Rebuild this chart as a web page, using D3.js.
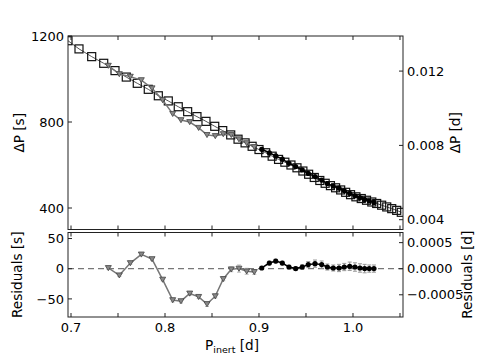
<!DOCTYPE html>
<html lang="en">
<head>
<meta charset="utf-8">
<title>Period spacing</title>
<script src="https://d3js.org/d3.v7.min.js"></script>
<style>
  body, html { margin: 0; padding: 0; background: #fff; }
  text { font-family: "DejaVu Sans", sans-serif; fill: #000; }
  .tick-label { font-size: 13px; }
  .axis-label { font-size: 13.6px; }
</style>
</head>
<body>
<svg width="480" height="362"></svg>
<script>
// model periods (open squares)
var modelP = [0.6968, 0.7085, 0.7220, 0.7348, 0.7468, 0.7588, 0.7705, 0.7822, 0.7929, 0.8035,
  0.8141, 0.8241, 0.8340, 0.8436, 0.8529, 0.8614, 0.8699, 0.8777, 0.8852, 0.8927,
  0.9000, 0.9071, 0.9140, 0.9208, 0.9275, 0.9340, 0.9404, 0.9467, 0.9528, 0.9588,
  0.9647, 0.9704, 0.9760, 0.9815, 0.9869, 0.9922, 0.9974, 1.0031, 1.0088, 1.0144,
  1.0200, 1.0252, 1.0305, 1.0359, 1.0412, 1.0465, 1.0514];
var modelDP = [1178, 1140, 1104, 1073, 1039, 1009, 980, 952, 922, 898,
  871, 848, 825, 803, 780, 760, 740, 720, 703, 687,
  672, 657, 641, 626, 613, 600, 587, 572, 557, 542,
  528, 515, 504, 494, 484, 473, 462, 452, 444, 436,
  428, 421, 413, 405, 397, 389, 380];

// first observed group (grey triangles)
var triP = [0.7397, 0.7514, 0.7631, 0.7748, 0.7862, 0.7975, 0.8082, 0.8170, 0.8263,
  0.8358, 0.8447, 0.8535, 0.8620, 0.8705, 0.8787, 0.8869, 0.8950];
var triDP = [1062, 1023, 1011, 995, 957, 902, 838, 809, 800, 773, 740, 735, 744, 740, 720, 702, 684];
var triRes = [1.2, -10.9, 9.4, 23.7, 16, -18, -52, -53.7, -41, -46.6, -58.6, -45.5, -17, -1, 0.2, -4.3, -5.4];
var triErr = [2, 2, 2, 2, 2, 2, 3, 3, 3, 3, 4, 3, 3, 4, 6, 5, 4];

// second observed group (black circles)
var dotP = [0.9029, 0.9110, 0.9178, 0.9248, 0.9319, 0.9390, 0.9460, 0.9524, 0.9596, 0.9667,
  0.9727, 0.9790, 0.9851, 0.9907, 0.9965, 1.0021, 1.0074, 1.0124, 1.0173, 1.0223];
var dotDP = [673, 657, 642, 627, 608, 593, 577, 561, 546, 530,
  514, 502, 492, 480, 468, 457, 448, 440, 433, 426];
var dotRes = [1.2, 9.4, 12.7, 9.4, 2.8, 0.2, 2.8, 6.8, 8.4, 6.8,
  2.8, 1.2, 1.2, 2.8, 4, 2.8, 1.2, 0.2, 0.2, 0.2];
var dotErr = [2, 3, 3, 3, 3, 3, 4, 5, 6, 6, 5, 5, 6, 6, 7, 7, 7, 7, 6, 6];

var xTicks = [0.7, 0.75, 0.8, 0.85, 0.9, 0.95, 1.0, 1.05];
var xLabels = [0.7, 0.8, 0.9, 1.0];
var dpTicks = [400, 800, 1200];
var dpDayTicks = [0.004, 0.008, 0.012];
var resTicks = [50, 0, -50];
var resDayTicks = [0.0005, 0, -0.0005];

var svg = d3.select("svg");
var left = 68, right = 403;
var top1 = 36, bot1 = 229.5, top2 = 232.5, bot2 = 317;
var day = 86400;

var x = d3.scaleLinear().domain([0.6968, 1.0532]).range([left, right]);
var y1 = d3.scaleLinear().domain([300, 1200]).range([bot1, top1]);
var y1d = d3.scaleLinear().domain([300 / day, 1200 / day]).range([bot1, top1]);
var y2 = d3.scaleLinear().domain([-80, 60]).range([bot2, top2]);
var y2d = d3.scaleLinear().domain([-80 / day, 60 / day]).range([bot2, top2]);

var defs = svg.append("defs");
defs.append("clipPath").attr("id", "clip1").append("rect")
  .attr("x", left).attr("y", top1).attr("width", right - left).attr("height", bot1 - top1);
defs.append("clipPath").attr("id", "clip2").append("rect")
  .attr("x", left).attr("y", top2).attr("width", right - left).attr("height", bot2 - top2);

function tri(cx, cy, s) {
  return "M" + (cx - s) + "," + (cy - s * 0.8) + "L" + (cx + s) + "," + (cy - s * 0.8) + "L" + cx + "," + (cy + s * 0.9) + "Z";
}

function frame(yt, yb) {
  svg.append("rect").attr("x", left).attr("y", yt).attr("width", right - left).attr("height", yb - yt)
    .attr("fill", "none").attr("stroke", "#222").attr("stroke-width", 1);
  // inward x ticks, top and bottom
  xTicks.forEach(function (t) {
    svg.append("line").attr("x1", x(t)).attr("x2", x(t)).attr("y1", yt).attr("y2", yt + 4).attr("stroke", "#222");
    svg.append("line").attr("x1", x(t)).attr("x2", x(t)).attr("y1", yb).attr("y2", yb - 4).attr("stroke", "#222");
  });
}

function yAxis(scale, ticks, fmt, side) {
  ticks.forEach(function (t) {
    var yy = scale(t);
    var x0 = side === "left" ? left : right;
    var dir = side === "left" ? 1 : -1;
    svg.append("line").attr("x1", x0).attr("x2", x0 + dir * 4).attr("y1", yy).attr("y2", yy).attr("stroke", "#222");
    svg.append("text").attr("class", "tick-label")
      .attr("x", side === "left" ? left - 4 : right + 4)
      .attr("y", yy).attr("dy", "0.36em")
      .attr("text-anchor", side === "left" ? "end" : "start")
      .text(fmt(t));
  });
}

// ---------- top panel ----------
var g1 = svg.append("g").attr("clip-path", "url(#clip1)");

var lineModel = d3.line().x(function (d, i) { return x(modelP[i]); }).y(function (d) { return y1(d); });
g1.append("path").datum(modelDP).attr("d", lineModel)
  .attr("fill", "none").attr("stroke", "#555").attr("stroke-width", 1);
g1.selectAll(".sq").data(modelDP).enter().append("rect")
  .attr("x", function (d, i) { return x(modelP[i]) - 4; })
  .attr("y", function (d) { return y1(d) - 4; })
  .attr("width", 8).attr("height", 8)
  .attr("fill", "none").attr("stroke", "#111").attr("stroke-width", 1.2);

var lineTri = d3.line().x(function (d, i) { return x(triP[i]); }).y(function (d) { return y1(d); });
g1.append("path").datum(triDP).attr("d", lineTri)
  .attr("fill", "none").attr("stroke", "#777").attr("stroke-width", 1.5);
g1.selectAll(".tri").data(triDP).enter().append("path")
  .attr("d", function (d, i) { return tri(x(triP[i]), y1(d), 3); })
  .attr("fill", "#888").attr("stroke", "#444").attr("stroke-width", 0.8);

var lineDot = d3.line().x(function (d, i) { return x(dotP[i]); }).y(function (d) { return y1(d); });
g1.append("path").datum(dotDP).attr("d", lineDot)
  .attr("fill", "none").attr("stroke", "#000").attr("stroke-width", 1.5);
g1.selectAll(".dot").data(dotDP).enter().append("circle")
  .attr("cx", function (d, i) { return x(dotP[i]); })
  .attr("cy", function (d) { return y1(d); })
  .attr("r", 2.6).attr("fill", "#000");

frame(top1, bot1);
yAxis(y1, dpTicks, d3.format("d"), "left");
yAxis(y1d, dpDayTicks, d3.format(".3f"), "right");

// ---------- residual panel ----------
var g2 = svg.append("g").attr("clip-path", "url(#clip2)");

g2.append("line").attr("x1", left).attr("x2", right).attr("y1", y2(0)).attr("y2", y2(0))
  .attr("stroke", "#777").attr("stroke-width", 1.2).attr("stroke-dasharray", "6,4");

function errorBars(px, vals, errs, color) {
  vals.forEach(function (v, i) {
    var cx = x(px[i]);
    g2.append("line").attr("x1", cx).attr("x2", cx).attr("y1", y2(v - errs[i])).attr("y2", y2(v + errs[i]))
      .attr("stroke", color).attr("stroke-width", 1);
    [v - errs[i], v + errs[i]].forEach(function (e) {
      g2.append("line").attr("x1", cx - 2).attr("x2", cx + 2).attr("y1", y2(e)).attr("y2", y2(e))
        .attr("stroke", color).attr("stroke-width", 1);
    });
  });
}

errorBars(triP, triRes, triErr, "#bbb");
var resTri = d3.line().x(function (d, i) { return x(triP[i]); }).y(function (d) { return y2(d); });
g2.append("path").datum(triRes).attr("d", resTri)
  .attr("fill", "none").attr("stroke", "#777").attr("stroke-width", 1.5);
g2.selectAll(".rtri").data(triRes).enter().append("path")
  .attr("d", function (d, i) { return tri(x(triP[i]), y2(d), 3); })
  .attr("fill", "#888").attr("stroke", "#444").attr("stroke-width", 0.8);

errorBars(dotP, dotRes, dotErr, "#999");
var resDot = d3.line().x(function (d, i) { return x(dotP[i]); }).y(function (d) { return y2(d); });
g2.append("path").datum(dotRes).attr("d", resDot)
  .attr("fill", "none").attr("stroke", "#000").attr("stroke-width", 1.5);
g2.selectAll(".rdot").data(dotRes).enter().append("circle")
  .attr("cx", function (d, i) { return x(dotP[i]); })
  .attr("cy", function (d) { return y2(d); })
  .attr("r", 2.6).attr("fill", "#000");

frame(top2, bot2);
yAxis(y2, resTicks, function (t) { return t < 0 ? "\u2212" + Math.abs(t) : String(t); }, "left");
yAxis(y2d, resDayTicks, function (t) { return t === 0 ? "0.0000" : d3.format(".4f")(t); }, "right");

xLabels.forEach(function (t) {
  svg.append("text").attr("class", "tick-label")
    .attr("x", x(t)).attr("y", 332).attr("text-anchor", "middle")
    .text(d3.format(".1f")(t));
});

// ---------- axis titles ----------
var xl = svg.append("text").attr("class", "axis-label").attr("x", 232).attr("y", 350).attr("text-anchor", "middle");
xl.append("tspan").text("P");
xl.append("tspan").attr("font-size", "9.5px").attr("dy", 3).text("inert");
xl.append("tspan").attr("dy", -3).text(" [d]");

function vLabel(cx, cy, txt) {
  svg.append("text").attr("class", "axis-label")
    .attr("transform", "translate(" + cx + "," + cy + ") rotate(-90)")
    .attr("text-anchor", "middle").attr("dy", "0.36em").text(txt);
}
vLabel(19, (top1 + bot1) / 2, "\u0394P [s]");
vLabel(17, (top2 + bot2) / 2, "Residuals [s]");
vLabel(455, (top1 + bot1) / 2, "\u0394P [d]");
vLabel(467, (top2 + bot2) / 2, "Residuals [d]");
</script>
</body>
</html>
